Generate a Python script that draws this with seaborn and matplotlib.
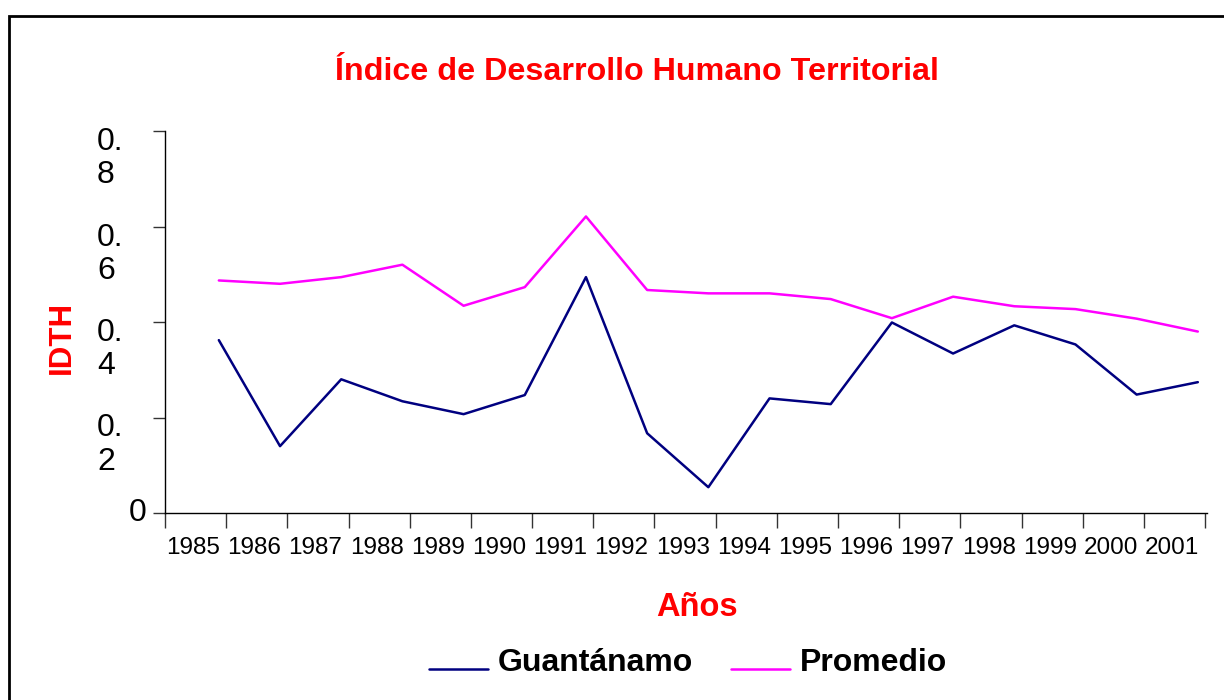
import matplotlib
matplotlib.use("Agg")
import matplotlib.pyplot as plt
import matplotlib.transforms as mtransforms
from matplotlib.patches import Rectangle
from matplotlib.legend_handler import HandlerLine2D
import pandas as pd
import seaborn as sns
import numpy as np

# data
years = [1985, 1986, 1987, 1988, 1989, 1990, 1991, 1992, 1993,
         1994, 1995, 1996, 1997, 1998, 1999, 2000, 2001]
guantanamo = [0.362, 0.140, 0.280, 0.234, 0.207, 0.247, 0.494, 0.167, 0.054,
              0.240, 0.228, 0.399, 0.334, 0.393, 0.353, 0.248, 0.274]
promedio = [0.487, 0.480, 0.494, 0.520, 0.434, 0.473, 0.621, 0.467, 0.460,
            0.460, 0.448, 0.408, 0.453, 0.433, 0.427, 0.407, 0.380]
series = ["Guantánamo", "Promedio"]
y_ticks = [0, 0.2, 0.4, 0.6, 0.8]
y_ticklabels = ["0", "0.\n2", "0.\n4", "0.\n6", "0.\n8"]

pos = np.arange(len(years))
df = pd.DataFrame({
    "pos": np.concatenate([pos, pos]),
    "IDTH": guantanamo + promedio,
    "Serie": [series[0]] * len(years) + [series[1]] * len(years),
})

sns.set_style("white")
plt.rcParams["font.family"] = ["Liberation Sans", "DejaVu Sans"]
plt.rcParams["text.color"] = "black"
plt.rcParams["xtick.color"] = "black"
plt.rcParams["ytick.color"] = "black"

fig = plt.figure(figsize=(12.24, 7), dpi=100)
ax = fig.add_axes([165 / 1224, 1 - 513 / 700, 1042 / 1224, 382 / 700])

sns.lineplot(data=df, x="pos", y="IDTH", hue="Serie",
             palette={"Guantánamo": "#000080", "Promedio": "#FF00FF"},
             linewidth=1.8, ax=ax, legend=False)

# axes look
ax.set_xlim(-0.88, 16.15)
ax.set_ylim(0, 0.8)
for s in ["top", "right"]:
    ax.spines[s].set_visible(False)
for s in ["left", "bottom"]:
    ax.spines[s].set_color("black")
    ax.spines[s].set_linewidth(1)

ax.set_xticks([-0.88] + list(pos + 0.12))
ax.set_xticklabels([])
ax.set_xticks(pos - 0.42, minor=True)
ax.set_xticklabels([str(y) for y in years], minor=True, fontsize=17.5)
ax.tick_params(axis="x", which="major", direction="out", length=11, width=1,
               color="#333333", bottom=True)
ax.tick_params(axis="x", which="minor", length=0, pad=17, labelcolor="black")

ax.set_yticks(y_ticks)
ax.set_yticklabels([])
ax.tick_params(axis="y", direction="out", length=9, width=1, color="#333333", left=True)

ytrans = ax.get_yaxis_transform()
up = mtransforms.offset_copy(ytrans, fig=fig, x=0, y=4, units="dots")
for v, lab in zip(y_ticks, y_ticklabels):
    if "\n" in lab:
        ax.text(-0.0653, v, lab, transform=up, ha="left", va="top",
                fontsize=23, linespacing=1.15)
    else:
        ax.text(-0.0182, v, lab, transform=ytrans, ha="right", va="center",
                fontsize=23)

ax.set_xlabel("")
ax.set_ylabel("")

# texts
fig.text(0.52, 1 - 72 / 700, "Índice de Desarrollo Humano Territorial",
         color="red", fontsize=23.2, fontweight="bold", ha="center", va="center")
fig.text(697 / 1224, 1 - 608 / 700, "Años", color="red", fontsize=23.5,
         fontweight="bold", ha="center", va="center")
fig.text(62 / 1224, 1 - 337 / 700, "IDTH", color="red", fontsize=22.5,
         fontweight="bold", ha="center", va="center", rotation=90)


class BaseHandler(HandlerLine2D):
    # put the sample line at the text baseline, like the old chart
    def create_artists(self, legend, orig_handle, xdescent, ydescent,
                       width, height, fontsize, trans):
        arts = super().create_artists(legend, orig_handle, xdescent, ydescent,
                                      width, height, fontsize, trans)
        for a in arts:
            a.set_ydata(np.asarray(a.get_ydata()) - height * 0.4)
        return arts


handles = ax.get_lines()[:2]
leg = fig.legend(handles, series, loc="center", bbox_to_anchor=(688 / 1224, 1 - 663 / 700),
                 ncol=2, frameon=False, handlelength=1.85, handletextpad=0.3,
                 columnspacing=1.2, prop={"size": 23, "weight": "bold"},
                 handler_map={h: BaseHandler() for h in handles})
for t in leg.get_texts():
    t.set_color("black")

# outer frame
fig.add_artist(Rectangle((9 / 1224, -0.1), 1.2, 0.1 + 1 - 16 / 700,
                         transform=fig.transFigure, fill=False,
                         edgecolor="black", linewidth=2))

fig.savefig("out.png", dpi=100)
